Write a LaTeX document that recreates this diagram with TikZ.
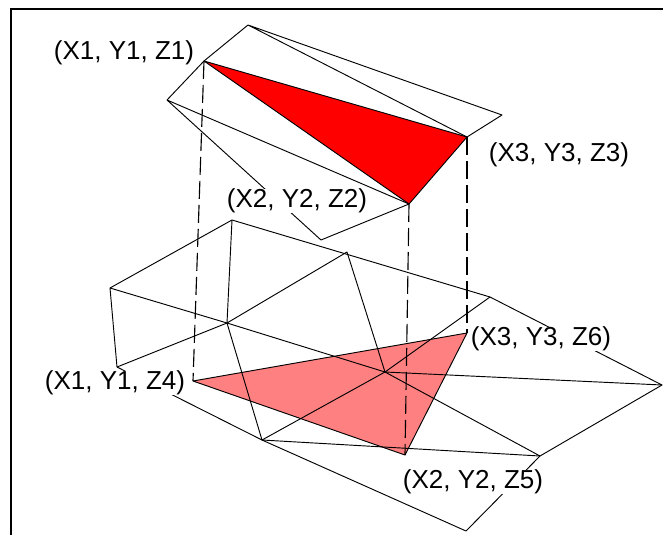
\documentclass[tikz,border=0pt]{standalone}
\usepackage{fontspec}
\setmainfont{Liberation Sans}

\begin{document}
\begin{tikzpicture}[
    x=0.75pt, y=-0.75pt,
    frame/.style={draw=black, line width=1.5pt},
    edge/.style={draw=black, line width=0.7pt, line join=round},
    drop/.style={draw=black, line width=0.85pt, dash pattern=on 13.5pt off 4.5pt},
    upperface/.style={edge, fill=red},
    lowerface/.style={edge, fill=red!50},
    vertex/.style={fill=white, inner sep=0pt, minimum height=24*0.75pt, font=\fontsize{19.5pt}{22pt}\selectfont}
]
\useasboundingbox (0,0) rectangle (663,535);

% Frame
\coordinate (frameBottom) at (11,535);
\coordinate (frameCorner) at (11,9.5);
\coordinate (frameRight) at (663,9.5);
\draw[frame] (frameBottom) -- (frameCorner) -- (frameRight);

% Upper surface
\coordinate (upTop) at (248,25);
\coordinate (upLeft) at (167,100);
\coordinate (upRight) at (502,115);
\coordinate (upBottom) at (321,240);
\coordinate (z1) at (204,61);
\coordinate (z2) at (409,204);
\coordinate (z3) at (467,137);

% Lower surface
\coordinate (lowTop) at (232,220);
\coordinate (lowLeft) at (110,288);
\coordinate (lowFoot) at (117,367);
\coordinate (lowInner) at (227,323);
\coordinate (lowPeak) at (347,252);
\coordinate (lowBack) at (490,297);
\coordinate (lowCentre) at (385,372);
\coordinate (lowRight) at (662,385);
\coordinate (lowFront) at (540,456);
\coordinate (lowNear) at (262,440);
\coordinate (lowBottom) at (466,531);
\coordinate (z4) at (193,381);
\coordinate (z5) at (405,455);
\coordinate (z6) at (467,333);

% Faces
\draw[lowerface] (z4) -- (z6) -- (z5) -- cycle;
\draw[upperface] (z1) -- (z3) -- (z2) -- cycle;

% Edges
\draw[edge] (upLeft) -- (z1) -- (upTop) -- (upRight) -- (z3) -- (upTop);
\draw[edge] (upLeft) -- (z2) -- (upBottom) -- (upLeft);
\draw[edge] (lowFoot) -- (lowLeft) -- (lowTop) -- (lowBack) -- (lowRight) -- (lowFront) -- (lowBottom) -- (lowNear) -- (lowFoot);
\draw[edge] (lowTop) -- (lowInner) -- (lowNear) -- (lowFront);
\draw[edge] (lowLeft) -- (lowInner) -- (lowCentre) -- (lowFront);
\draw[edge] (lowFoot) -- (lowInner) -- (lowPeak) -- (lowCentre) -- (lowRight);
\draw[edge] (lowNear) -- (lowCentre) -- (lowBack);

% Drop lines
\draw[drop] (z1) -- (z4);
\draw[drop] (z2) -- (z5);
\draw[drop] (z3) -- (z6);

% Labels
\node[vertex] (labelZ1) at (124,53) {(X1, Y1, Z1)};
\node[vertex] (labelZ2) at (297,201) {(X2, Y2, Z2)};
\node[vertex] (labelZ3) at (559,155) {(X3, Y3, Z3)};
\node[vertex] (labelZ4) at (115,383) {(X1, Y1, Z4)};
\node[vertex] (labelZ5) at (473,482) {(X2, Y2, Z5)};
\node[vertex] (labelZ6) at (541,339) {(X3, Y3, Z6)};

\end{tikzpicture}
\end{document}
